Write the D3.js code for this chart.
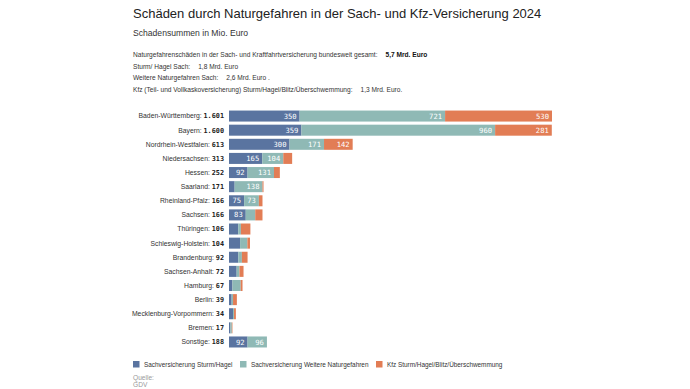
<!DOCTYPE html>
<html>
<head>
<meta charset="utf-8">
<script src="https://cdn.jsdelivr.net/npm/d3@7"></script>
<style>
  body { margin: 0; background: #fff; }
  text { font-family: "Liberation Sans", Arial, sans-serif; }
  .mono { font-family: "DejaVu Sans Mono", monospace; }
</style>
</head>
<body>
<div id="container"></div>
<script>
const laender = ["Baden-Württemberg", "Bayern", "Nordrhein-Westfalen", "Niedersachsen", "Hessen", "Saarland",
  "Rheinland-Pfalz", "Sachsen", "Thüringen", "Schleswig-Holstein", "Brandenburg", "Sachsen-Anhalt",
  "Hamburg", "Berlin", "Mecklenburg-Vorpommern", "Bremen", "Sonstige"];
const sturmHagel = [350, 359, 300, 165, 92, 28, 75, 83, 46, 55, 46, 38, 17, 13, 20, 7, 92];
const weitere = [721, 960, 171, 104, 131, 138, 73, 47, 13, 36, 18, 14, 41, 7, 5, 7, 96];
const kfz = [530, 281, 142, 44, 29, 5, 18, 36, 47, 13, 28, 20, 9, 19, 9, 3, 0];
const totals = ["1.601", "1.600", "613", "313", "252", "171", "166", "166", "106", "104", "92", "72", "67", "39", "34", "17", "188"];
const serien = ["Sachversicherung Sturm/Hagel", "Sachversicherung Weitere Naturgefahren", "Kfz Sturm/Hagel/Blitz/Überschwemmung"];
const farben = ["#5a74a0", "#8fb9b5", "#e27d55"];

const width = 690, height = 389;
const margin = { left: 229, top: 109 };

const rows = laender.map((name, i) => {
  const vals = [sturmHagel[i], weitere[i], kfz[i]];
  let acc = 0;
  const segs = vals.map((v, k) => { const s = { k, x0: acc, x1: acc + v, v }; acc += v; return s; });
  return { name, total: totals[i], segs };
});

let x = d3.scaleLinear().domain([0, 1601]).range([margin.left, 552]);
let y = d3.scaleBand().domain(laender).range([margin.top, margin.top + 14.12 * laender.length]).paddingInner(0.22).paddingOuter(0.11);

let svg = d3.select("#container").append("svg")
  .attr("width", width)
  .attr("height", height);

// Kopf
svg.append("text").attr("x", 133).attr("y", 18).attr("font-size", 13).attr("fill", "#222")
  .text("Schäden durch Naturgefahren in der Sach- und Kfz-Versicherung 2024");
svg.append("text").attr("x", 133).attr("y", 36).attr("font-size", 8.6).attr("fill", "#333")
  .text("Schadensummen in Mio. Euro");

const notes = [
  ["Naturgefahrenschäden in der Sach- und Kraftfahrtversicherung bundesweit gesamt:", "5,7 Mrd. Euro", true],
  ["Sturm/ Hagel Sach:", "1,8 Mrd. Euro", false],
  ["Weitere Naturgefahren Sach:", "2,6 Mrd. Euro .", false],
  ["Kfz (Teil- und Vollkaskoversicherung) Sturm/Hagel/Blitz/Überschwemmung:", "1,3 Mrd. Euro.", false]
];
const nt = svg.append("g").selectAll("text").data(notes).join("text")
  .attr("x", 133).attr("y", (d, i) => 57 + i * 11.6)
  .attr("font-size", 6.6).attr("fill", "#333");
nt.append("tspan").text(d => d[0]);
nt.append("tspan").attr("dx", 8).attr("font-weight", d => d[2] ? "bold" : null).attr("fill", d => d[2] ? "#111" : null).text(d => d[1]);

// Balken
const row = svg.append("g").selectAll("g").data(rows).join("g");

row.selectAll("rect").data(d => d.segs.filter(s => s.v > 0)).join("rect")
  .attr("x", s => x(s.x0))
  .attr("width", s => x(s.x1) - x(s.x0))
  .attr("y", function () { return y(d3.select(this.parentNode).datum().name); })
  .attr("height", y.bandwidth())
  .attr("fill", s => farben[s.k]);

row.selectAll("text.seg").data(d => d.segs.filter(s => x(s.x1) - x(s.x0) > 13)).join("text")
  .attr("class", "seg mono")
  .attr("x", s => x(s.x1) - 3)
  .attr("y", function () { return y(d3.select(this.parentNode).datum().name) + y.bandwidth() / 2; })
  .attr("dy", "0.35em")
  .attr("text-anchor", "end")
  .attr("font-size", 7.2)
  .attr("fill", "#fff")
  .text(s => s.v);

const lab = row.append("text")
  .attr("x", 224)
  .attr("y", d => y(d.name) + y.bandwidth() / 2)
  .attr("dy", "0.35em")
  .attr("text-anchor", "end")
  .attr("font-size", 6.8)
  .attr("fill", "#333");
lab.append("tspan").text(d => d.name + ": ");
lab.append("tspan").attr("class", "mono").attr("font-weight", "bold").attr("fill", "#222").text(d => d.total);

// Legende
const legX = [133, 240, 376];
const leg = svg.append("g").selectAll("g").data(serien).join("g")
  .attr("transform", (d, i) => `translate(${legX[i]},361)`);
leg.append("rect").attr("width", 6.5).attr("height", 6.5).attr("fill", (d, i) => farben[i]);
leg.append("text").attr("x", 11).attr("y", 5.8).attr("font-size", 6.4).attr("fill", "#333").text(d => d);

svg.append("text").attr("x", 133).attr("y", 380).attr("font-size", 6.6).attr("fill", "#999").text("Quelle:");
svg.append("text").attr("x", 133).attr("y", 387).attr("font-size", 6.6).attr("fill", "#999").text("GDV");
</script>
</body>
</html>
